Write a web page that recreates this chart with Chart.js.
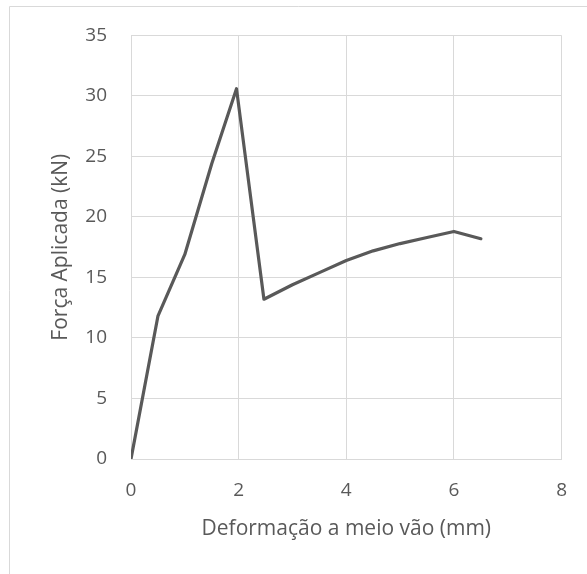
<!DOCTYPE html>
<html>
<head>
<meta charset="utf-8">
<script src="https://cdn.jsdelivr.net/npm/chart.js@4/dist/chart.umd.min.js"></script>
<style>
  html, body { margin: 0; padding: 0; background: #ffffff; }
  #wrap { position: relative; width: 587px; height: 574px; }
</style>
</head>
<body>
<div id="wrap"><canvas id="c" width="587" height="574"></canvas></div>
<script>
// Load test: mid-span deflection (mm) vs applied force (kN)
const deformacao = [0, 0.5, 1, 1.5, 1.96, 2.47, 3, 3.5, 4, 4.5, 5, 5.5, 6, 6.5];
const forca      = [0, 11.8, 16.9, 24.4, 30.6, 13.2, 14.4, 15.4, 16.4, 17.2, 17.8, 18.3, 18.8, 18.2];
const xTicks = [0, 2, 4, 6, 8];
const yTicks = [0, 5, 10, 15, 20, 25, 30, 35];

const textColor = '#595959';
const gridColor = '#d9d9d9';
const fontFamily = '"Open Sans", "Liberation Sans", sans-serif';

const points = deformacao.map((x, i) => ({ x: x, y: forca[i] }));

// light frame around the chart object
const framePlugin = {
  id: 'frame',
  beforeDraw(chart) {
    const ctx = chart.ctx;
    ctx.save();
    ctx.strokeStyle = gridColor;
    ctx.lineWidth = 1;
    ctx.beginPath();
    ctx.moveTo(9.5, chart.height);
    ctx.lineTo(9.5, 6.5);
    ctx.lineTo(chart.width, 6.5);
    ctx.stroke();
    ctx.restore();
  }
};

new Chart(document.getElementById('c'), {
  type: 'scatter',
  data: {
    datasets: [{
      data: points,
      showLine: true,
      borderColor: '#595959',
      borderWidth: 3.2,
      borderJoinStyle: 'round',
      borderCapStyle: 'round',
      pointRadius: 0,
      pointHoverRadius: 0,
      tension: 0,
      fill: false
    }]
  },
  options: {
    responsive: false,
    animation: false,
    events: [],
    layout: { padding: { left: 0, right: 25, top: 35, bottom: 0 } },
    plugins: { legend: { display: false }, tooltip: { enabled: false } },
    scales: {
      x: {
        type: 'linear',
        min: 0, max: 8,
        afterBuildTicks(scale) { scale.ticks = xTicks.map(v => ({ value: v })); },
        afterFit(scale) { scale.height = 115; },
        grid: { color: gridColor, lineWidth: 1, drawTicks: false },
        border: { color: gridColor, width: 1 },
        ticks: { padding: 20, color: textColor, font: { family: fontFamily, size: 19 } },
        title: {
          display: true,
          text: 'Deformação a meio vão (mm)',
          color: textColor,
          font: { family: fontFamily, size: 21 },
          padding: { top: 0, bottom: 32 }
        }
      },
      y: {
        type: 'linear',
        min: 0, max: 35,
        afterBuildTicks(scale) { scale.ticks = yTicks.map(v => ({ value: v })); },
        afterFit(scale) { scale.width = 131; },
        grid: { color: gridColor, lineWidth: 1, drawTicks: false },
        border: { color: gridColor, width: 1 },
        ticks: { padding: 24, color: textColor, font: { family: fontFamily, size: 19 } },
        title: {
          display: true,
          text: 'Força Aplicada (kN)',
          color: textColor,
          font: { family: fontFamily, size: 21 },
          padding: { top: 48, bottom: 0 }
        }
      }
    }
  },
  plugins: [framePlugin]
});
</script>
</body>
</html>
